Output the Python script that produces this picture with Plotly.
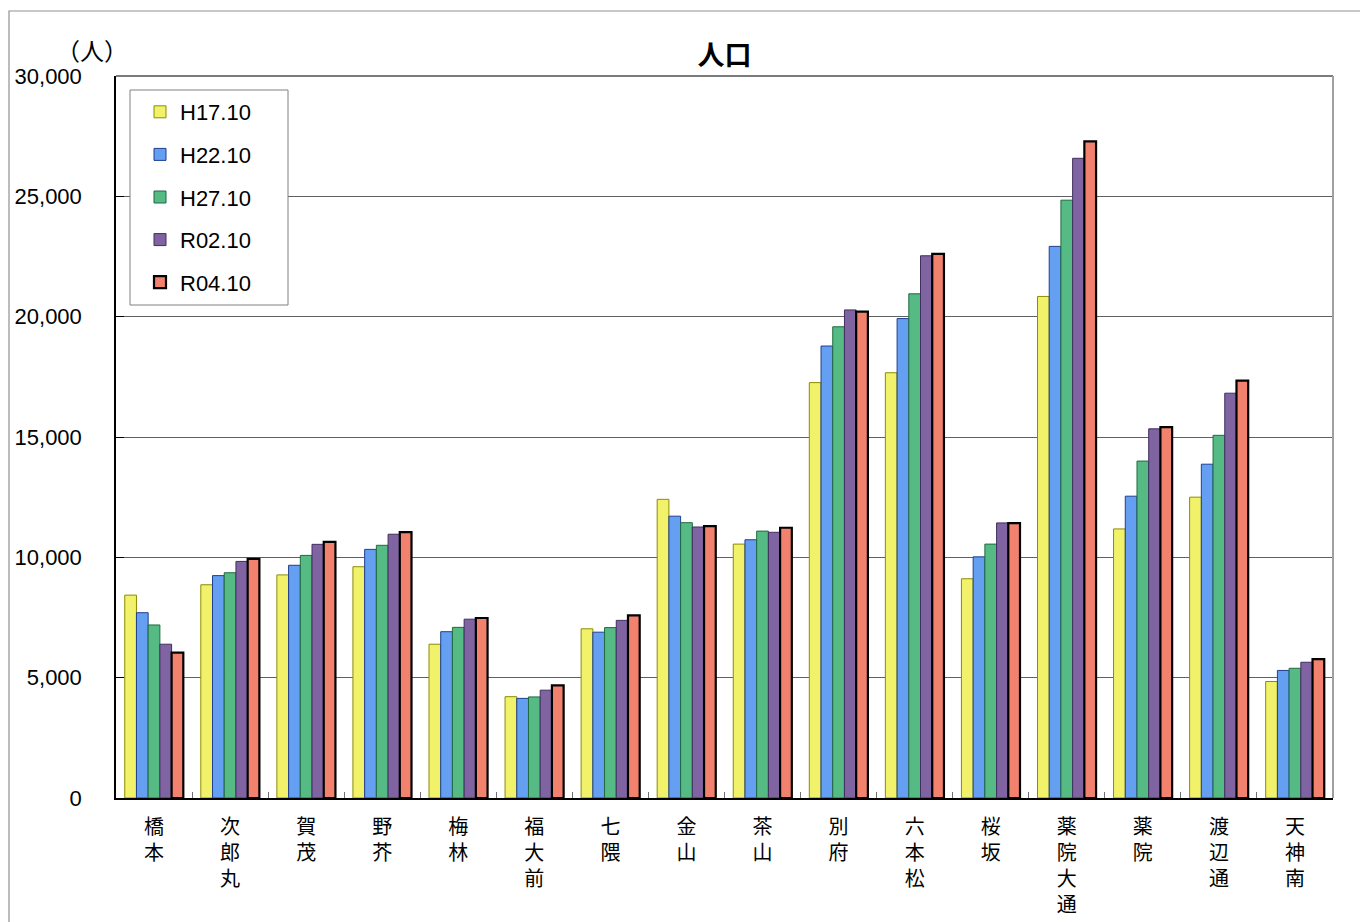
import plotly.graph_objects as go

# Data
areas = ["橋本", "次郎丸", "賀茂", "野芥", "梅林", "福大前", "七隈", "金山",
         "茶山", "別府", "六本松", "桜坂", "薬院大通", "薬院", "渡辺通", "天神南"]

h17 = [8430, 8860, 9270, 9610, 6390, 4210, 7030, 12410,
       10550, 17260, 17670, 9110, 20840, 11180, 12500, 4840]
h22 = [7700, 9240, 9670, 10330, 6910, 4140, 6890, 11710,
       10730, 18780, 19920, 10020, 22920, 12540, 13870, 5300]
h27 = [7190, 9360, 10080, 10500, 7090, 4200, 7080, 11440,
       11090, 19580, 20950, 10550, 24840, 14000, 15070, 5390]
r02 = [6390, 9830, 10540, 10960, 7430, 4480, 7380, 11260,
       11040, 20280, 22530, 11430, 26580, 15340, 16820, 5640]
r04 = [6040, 9940, 10640, 11050, 7480, 4680, 7590, 11300,
       11230, 20210, 22610, 11420, 27280, 15410, 17340, 5770]

series = [
    ("H17.10", h17, "#F2F26A", "#8C8C00", 1),
    ("H22.10", h22, "#649FF2", "#1F3F8F", 1),
    ("H27.10", h27, "#55BA84", "#1F6B3F", 1),
    ("R02.10", r02, "#8064A2", "#3F2F5F", 1),
    ("R04.10", r04, "#F2826E", "#000000", 2.2),
]

# vertical labels: one character per line
tick_text = ["<br>".join(list(a)) for a in areas]

cjk = "Noto Sans CJK JP"
num = "Liberation Sans"

# the page has an 8px body margin, so the figure is shifted by 8px
W, H = 1360, 914
L, R, T, B = 108, 35, 68, 124
pw, ph = W - L - R, H - T - B


def px_x(x):  # page pixel -> paper x
    return (x - 8 - L) / pw


def px_y(y):  # page pixel -> paper y
    return (H - B + 8 - y) / ph


fig = go.Figure()
for name, vals, fill, edge, lw in series:
    fig.add_trace(go.Bar(
        x=areas, y=vals, name=name, legendgroup=name,
        marker=dict(color=fill, line=dict(color=edge, width=lw)),
    ))

fig.update_layout(
    width=W, height=H,
    margin=dict(l=L, r=R, t=T, b=B),
    paper_bgcolor="white", plot_bgcolor="white",
    barmode="group", bargap=0.23, bargroupgap=0,
    font=dict(family=cjk, color="black"),
    title=dict(text="<b>人口</b>", xref="paper", x=0.5, xanchor="center",
               y=1 - 48 / H, yanchor="middle",
               font=dict(size=27, family=cjk)),
    legend=dict(
        x=px_x(140), y=px_y(91), xanchor="left", yanchor="top",
        bgcolor="rgba(0,0,0,0)", borderwidth=0,
        font=dict(size=22, family=num), tracegroupgap=11,
        itemwidth=30,
    ),
    showlegend=True,
)

fig.update_yaxes(
    range=[0, 30000], tickvals=[0, 5000, 10000, 15000, 20000, 25000, 30000],
    tickformat=",d", tickfont=dict(size=22, family=num),
    showgrid=True, gridcolor="#606060", gridwidth=1,
    showline=True, linecolor="black", linewidth=1.5,
    ticks="inside", ticklen=8, tickcolor="black",
    ticklabelstandoff=28, zeroline=False, automargin=False,
)
fig.update_xaxes(
    tickvals=areas, ticktext=tick_text, tickfont=dict(size=20, family=cjk),
    showline=True, linecolor="black", linewidth=1.5,
    ticks="inside", tickson="boundaries", ticklen=6, tickcolor="#707070",
    ticklabelstandoff=10, showgrid=False, automargin=False,
)

# gray frame on top/right of plot area and the outer chart border
fig.add_shape(type="line", xref="paper", yref="paper", x0=0, x1=1, y0=1, y1=1,
              line=dict(color="#505050", width=1.5))
fig.add_shape(type="line", xref="paper", yref="paper", x0=1, x1=1, y0=0, y1=1,
              line=dict(color="#a0a0a0", width=2))
fig.add_shape(type="rect", xref="paper", yref="paper",
              x0=px_x(9), x1=1.1, y0=-0.2, y1=px_y(11),
              line=dict(color="#909090", width=1.2), layer="below")
# legend box
fig.add_shape(type="rect", xref="paper", yref="paper",
              x0=px_x(130), x1=px_x(288), y0=px_y(305), y1=px_y(90),
              fillcolor="white", line=dict(color="#808080", width=1), layer="above")

fig.add_annotation(text="（人）", xref="paper", yref="paper",
                   x=px_x(92), y=px_y(50), xanchor="center", yanchor="middle",
                   showarrow=False, font=dict(size=24, family=cjk))

fig.write_html("out.html")
